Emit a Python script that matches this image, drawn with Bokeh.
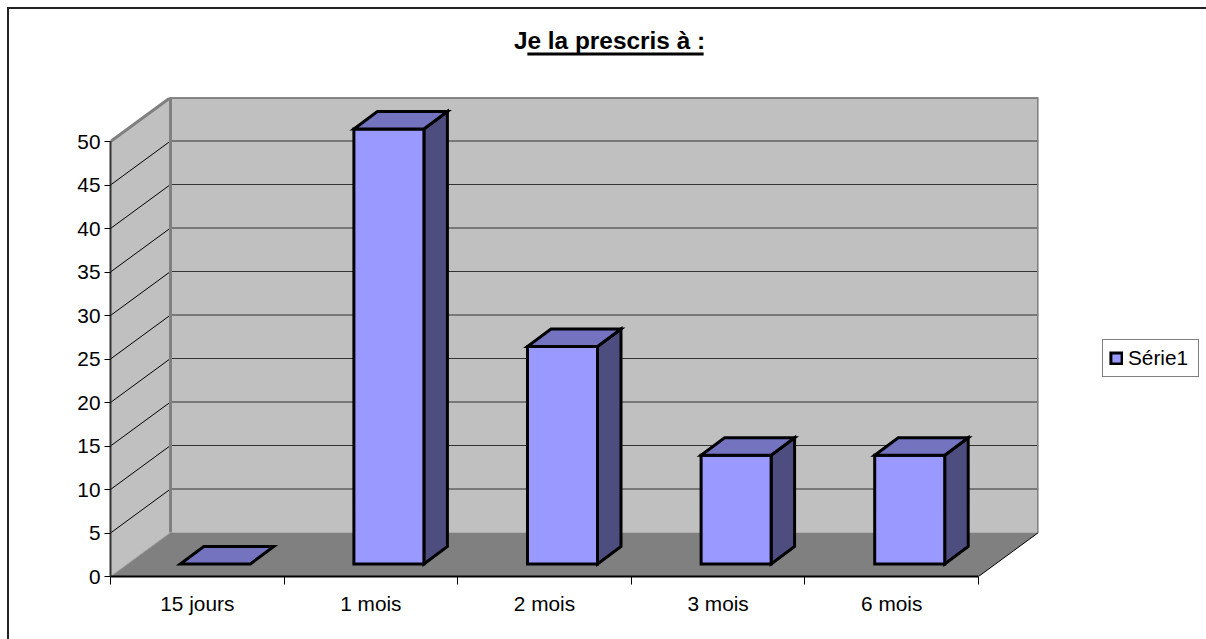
from bokeh.plotting import figure
from bokeh.embed import file_html
from bokeh.resources import INLINE
from bokeh.models import (Range1d, FixedTicker, Label, Legend, LegendItem, LinearAxis)

TITLE = "Je la prescris à :"
CATEGORIES = ["15 jours", "1 mois", "2 mois", "3 mois", "6 mois"]
SERIES_NAME = "Série1"
VALUES = [0, 50, 25, 12.5, 12.5]
Y_TICKS = [0, 5, 10, 15, 20, 25, 30, 35, 40, 45, 50]

FONT = "Liberation Sans"
WALL, FLOOR, EDGE = "#c0c0c0", "#808080", "#808080"
FRONT, TOP, SIDE = "#9999ff", "#7373bf", "#4d4d80"

# Page-pixel layout of the plot box
L, R, T, B = 110, 1038, 97, 576
FRONT_R, FRONT_T = 978, 141
n = len(CATEGORIES)
ux = (FRONT_R - L) / n          # px per category
uy = (B - FRONT_T) / Y_TICKS[-1]  # px per value unit
xmax, ymax = (R - L) / ux, (B - T) / uy
wx, wy = (R - FRONT_R) / ux, (FRONT_T - T) / uy  # wall depth in data units
sx, sy = 18 / ux, 12.5 / uy     # bar front offset from the front plane
dx, dy = 23.5 / ux, 17.5 / uy   # bar depth
bw = 70 / ux                    # bar width

# Outer chart border: top and left edges only, painted behind the transparent canvas
border = ("linear-gradient(#222,#222) 7px 7px/1199px 2px no-repeat,"
          "linear-gradient(#222,#222) 7px 7px/2px 632px no-repeat")

W, H = 1206, 639
p = figure(width=W, height=H, output_backend="svg", toolbar_location=None,
           x_range=Range1d(0, xmax), y_range=Range1d(0, ymax),
           frame_width=R - L, frame_height=B - T,
           min_border_left=L, min_border_right=W - R,
           min_border_top=T, min_border_bottom=H - B,
           x_axis_type=None, y_axis_type=None, outline_line_color=None,
           background_fill_color=None, border_fill_color=None,
           styles={"background": border})
p.grid.visible = False


def px(x):
    return (x - L) / ux


def py(y):
    return (B - y) / uy


top_v = Y_TICKS[-1]
# walls
p.patch([wx, xmax, xmax, wx], [wy, wy, ymax, ymax], fill_color=WALL, line_color=None)
p.patch([0, wx, wx, 0], [0, wy, ymax, top_v], fill_color=WALL, line_color=None)
p.patch([0, n, xmax, wx], [0, 0, wy, wy], fill_color=FLOOR, line_color=None)

# gridlines
for t in Y_TICKS[1:]:
    p.line([wx, xmax], [t + wy, t + wy], line_color="#333333", line_width=1)
    p.line([0, wx], [t, t + wy], line_color="#000000", line_width=1)
p.line([n, xmax], [0, wy], line_color="#000000", line_width=1)

# wall edges
p.line([0, wx, wx], [top_v, ymax, wy], line_color=EDGE, line_width=3)
p.line([wx, xmax, xmax], [ymax, ymax, wy], line_color=EDGE, line_width=3)
p.line([0, wx], [0, wy], line_color="#a0a0a0", line_width=1)

# bars
front_renderer = None
for i, v in enumerate(VALUES):
    x0 = i + 0.5 + sx - bw / 2
    x1 = x0 + bw
    y0 = sy
    y1 = sy + v
    style = dict(line_color="black", line_width=3, line_join="miter")
    if v > 0:
        p.patch([x1, x1 + dx, x1 + dx, x1], [y0, y0 + dy, y1 + dy, y1], fill_color=SIDE, **style)
        r = p.quad(left=x0, right=x1, bottom=y0, top=y1, fill_color=FRONT, **style)
        front_renderer = front_renderer or r
    p.patch([x0, x1, x1 + dx, x0 + dx], [y1, y1, y1 + dy, y1 + dy], fill_color=TOP, **style)

# axes
yaxis = LinearAxis(ticker=FixedTicker(ticks=Y_TICKS), bounds=(0, top_v))
yaxis.major_label_text_font = FONT
yaxis.major_label_text_font_size = "20.8px"
yaxis.major_label_text_color = "#000000"
yaxis.major_tick_in = 0
yaxis.major_tick_out = 6
yaxis.minor_tick_in = 0
yaxis.minor_tick_out = 0
yaxis.major_label_standoff = 4
yaxis.axis_line_color = "#333333"
yaxis.axis_line_width = 2
yaxis.major_tick_line_color = "#000000"
p.add_layout(yaxis, "left")

xaxis = LinearAxis(ticker=FixedTicker(ticks=[i + 0.5 for i in range(n)], minor_ticks=list(range(n + 1))),
                   bounds=(0, n),
                   major_label_overrides={i + 0.5: c for i, c in enumerate(CATEGORIES)})
xaxis.major_label_text_font = FONT
xaxis.major_label_text_font_size = "20.8px"
xaxis.major_label_text_color = "#000000"
xaxis.major_tick_in = 0
xaxis.major_tick_out = 0
xaxis.minor_tick_in = 0
xaxis.minor_tick_out = 8
xaxis.major_label_standoff = 7
xaxis.axis_line_color = "#000000"
xaxis.axis_line_width = 2
xaxis.minor_tick_line_color = "#000000"
p.add_layout(xaxis, "below")

# title (side-panel text annotations are not clipped to the frame)
p.add_layout(Label(x=px(609), y=py(40), text=TITLE, text_font=FONT, text_font_style="bold",
                   text_font_size="24.4px", text_align="center", text_baseline="alphabetic",
                   text_color="#000000"), "above")
# title underline: a blank label's background
p.add_layout(Label(x=px(615), y=py(53.5), text=" ",
                   text_font=FONT, text_font_size="1px", text_align="center",
                   text_baseline="middle", text_color="#000000",
                   background_fill_color="#000000", background_fill_alpha=1,
                   padding=dict(x=88, y=1)), "above")

# legend
legend = Legend(items=[LegendItem(label=SERIES_NAME, renderers=[front_renderer])],
                location=(64, B - 377), orientation="vertical",
                border_line_color="#000000", border_line_width=1,
                background_fill_color="white", background_fill_alpha=1,
                label_text_font=FONT, label_text_font_size="20.8px", label_text_color="#000000",
                glyph_width=14, glyph_height=14, margin=0, padding=6, spacing=0,
                label_standoff=5, label_height=20, label_width=64)
p.add_layout(legend, "right")

open("out.html", "w").write(file_html(p, INLINE))
